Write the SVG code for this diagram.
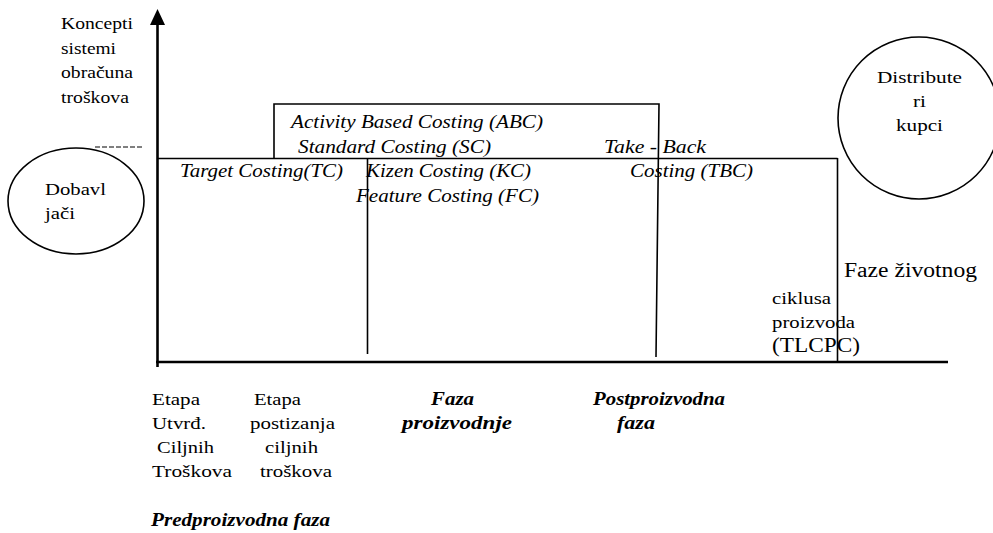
<svg xmlns="http://www.w3.org/2000/svg" width="993" height="533" viewBox="0 0 993 533">
<style>
text{font-family:"Liberation Serif",Tinos,"Times New Roman",Times,"Nimbus Roman","Nimbus Roman No9 L","DejaVu Serif","Noto Serif",FreeSerif,serif;fill:#000}
.up{font-size:17.5px}
.it{font-size:18px;font-style:italic}
.bi{font-size:18.5px;font-style:italic;font-weight:bold}
.ln{stroke:#000;stroke-width:1.6;fill:none}
.ax{stroke:#000;stroke-width:2.6;fill:none}
.nd{stroke:#000;stroke-width:1.6;fill:#fff}
</style>
<defs>
<marker id="arr" markerUnits="userSpaceOnUse" markerWidth="17" markerHeight="16" refX="0" refY="7.5" orient="auto" viewBox="0 0 17 16">
<path d="M0,0 L16,7.5 L0,15 z" fill="#000"/>
</marker>
</defs>
<rect width="993" height="533" fill="#fff"/>
<g id="connectors">
<line class="ax" x1="157.5" y1="367" x2="157.5" y2="25" marker-end="url(#arr)"/>
<line class="ax" x1="156" y1="362" x2="948" y2="362"/>
<line class="ln" x1="158" y1="158.5" x2="837.5" y2="158.5"/>
<line class="ln" x1="837.5" y1="158" x2="837.5" y2="362"/>
<polyline class="ln" points="274,158.5 274,104 659,104 656,357"/>
<line class="ln" x1="367.5" y1="158" x2="367.5" y2="354"/>
<line x1="95" y1="147" x2="142" y2="147" stroke="#000" stroke-width="1" stroke-dasharray="5,2"/>
</g>
<g id="axis-label">
<text class="up" x="61" y="29" textLength="72" lengthAdjust="spacingAndGlyphs">Koncepti</text>
<text class="up" x="61" y="53.5" textLength="55" lengthAdjust="spacingAndGlyphs">sistemi</text>
<text class="up" x="61" y="78" textLength="72" lengthAdjust="spacingAndGlyphs">obračuna</text>
<text class="up" x="61" y="102.5" textLength="68" lengthAdjust="spacingAndGlyphs">troškova</text>
</g>
<g id="dobavljaci">
<ellipse class="nd" cx="76" cy="201" rx="68" ry="53"/>
<text class="up" x="45" y="195" textLength="61" lengthAdjust="spacingAndGlyphs">Dobavl</text>
<text class="up" x="45" y="219" textLength="30" lengthAdjust="spacingAndGlyphs">jači</text>
</g>
<g id="distributeri">
<ellipse class="nd" cx="919" cy="118" rx="81" ry="81"/>
<text class="up" x="919.5" y="83" text-anchor="middle" textLength="85" lengthAdjust="spacingAndGlyphs">Distribute</text>
<text class="up" x="919.5" y="107" text-anchor="middle" textLength="13" lengthAdjust="spacingAndGlyphs">ri</text>
<text class="up" x="919.5" y="131" text-anchor="middle" textLength="47" lengthAdjust="spacingAndGlyphs">kupci</text>
</g>
<g id="methods">
<text class="it" x="291" y="128" textLength="252" lengthAdjust="spacingAndGlyphs">Activity Based Costing (ABC)</text>
<text class="it" x="298" y="153" textLength="193" lengthAdjust="spacingAndGlyphs">Standard Costing (SC)</text>
<text class="it" x="604" y="153" textLength="102" lengthAdjust="spacingAndGlyphs">Take - Back</text>
<text class="it" x="180" y="177" textLength="163" lengthAdjust="spacingAndGlyphs">Target Costing(TC)</text>
<text class="it" x="366" y="177" textLength="165" lengthAdjust="spacingAndGlyphs">Kizen Costing (KC)</text>
<text class="it" x="630" y="177" textLength="123" lengthAdjust="spacingAndGlyphs">Costing (TBC)</text>
<text class="it" x="356" y="202" textLength="183" lengthAdjust="spacingAndGlyphs">Feature Costing (FC)</text>
</g>
<g id="tlcpc">
<text class="up" x="844" y="277" style="font-size:20px" textLength="133" lengthAdjust="spacingAndGlyphs">Faze životnog</text>
<text class="up" x="772" y="304" textLength="59" lengthAdjust="spacingAndGlyphs">ciklusa</text>
<text class="up" x="772" y="328" textLength="83" lengthAdjust="spacingAndGlyphs">proizvoda</text>
<text class="up" x="772" y="352" style="font-size:20.5px" textLength="88" lengthAdjust="spacingAndGlyphs">(TLCPC)</text>
</g>
<g id="phases">
<text class="up" x="152" y="405" textLength="48" lengthAdjust="spacingAndGlyphs">Etapa</text>
<text class="up" x="152" y="429" textLength="54" lengthAdjust="spacingAndGlyphs">Utvrđ.</text>
<text class="up" x="157" y="453" textLength="57" lengthAdjust="spacingAndGlyphs">Ciljnih</text>
<text class="up" x="152" y="477" textLength="80" lengthAdjust="spacingAndGlyphs">Troškova</text>
<text class="up" x="254" y="405" textLength="47" lengthAdjust="spacingAndGlyphs">Etapa</text>
<text class="up" x="250" y="429" textLength="85" lengthAdjust="spacingAndGlyphs">postizanja</text>
<text class="up" x="265" y="453" textLength="53" lengthAdjust="spacingAndGlyphs">ciljnih</text>
<text class="up" x="260" y="477" textLength="72" lengthAdjust="spacingAndGlyphs">troškova</text>
<text class="bi" x="431" y="405" textLength="43" lengthAdjust="spacingAndGlyphs">Faza</text>
<text class="bi" x="402" y="429" textLength="110" lengthAdjust="spacingAndGlyphs">proizvodnje</text>
<text class="bi" x="593" y="405" textLength="132" lengthAdjust="spacingAndGlyphs">Postproizvodna</text>
<text class="bi" x="617" y="429" textLength="38" lengthAdjust="spacingAndGlyphs">faza</text>
<text class="bi" x="151" y="526" textLength="179" lengthAdjust="spacingAndGlyphs">Predproizvodna faza</text>
</g>
</svg>
